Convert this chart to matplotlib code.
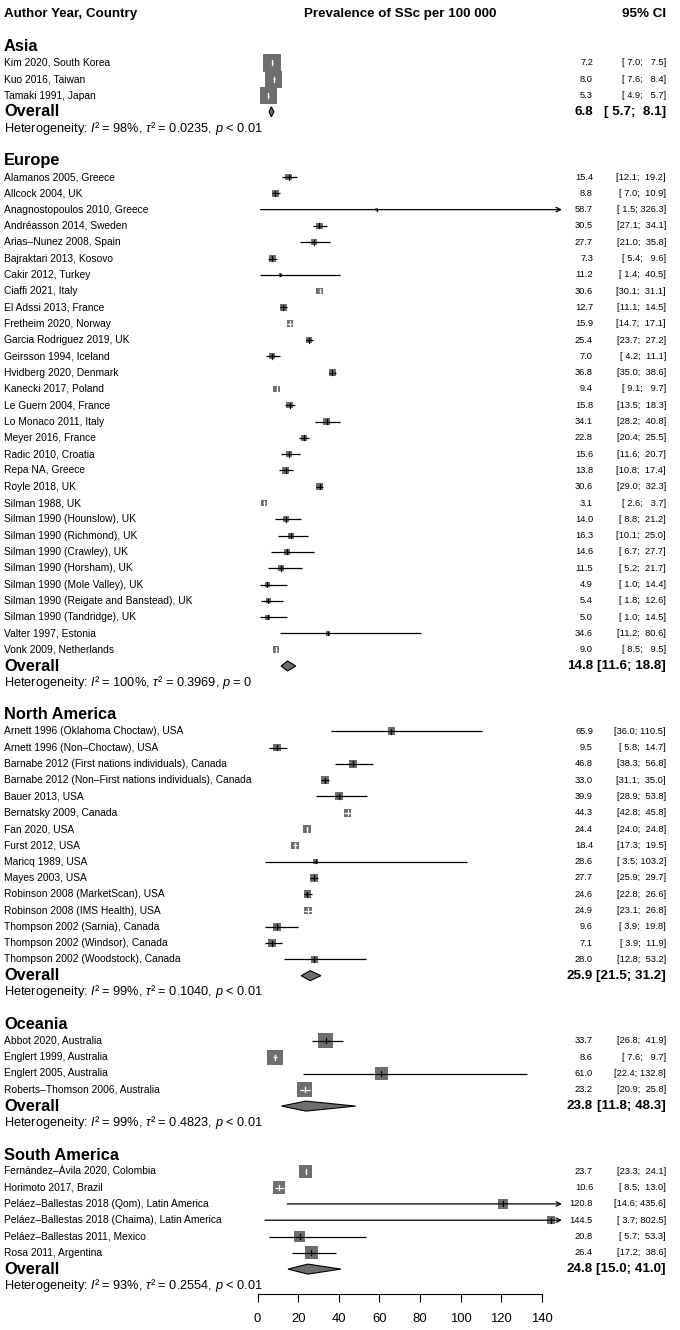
import matplotlib.pyplot as plt
import matplotlib.transforms as mtransforms
from matplotlib.patches import Rectangle, Polygon

plt.rcParams['font.family'] = ['Liberation Sans', 'DejaVu Sans']
plt.rcParams['mathtext.fontset'] = 'custom'
plt.rcParams['mathtext.rm'] = 'Liberation Sans'
plt.rcParams['mathtext.it'] = 'Liberation Sans:italic'

# ---- data ----
group_names = ['Asia', 'Europe', 'North America', 'Oceania', 'South America']

asia_labels = ['Kim 2020, South Korea', 'Kuo 2016, Taiwan', 'Tamaki 1991, Japan']
asia_est = [7.2, 8.0, 5.3]
asia_lo = [7.0, 7.6, 4.9]
asia_hi = [7.5, 8.4, 5.7]
asia_w = [33.4, 33.4, 33.2]

europe_labels = ['Alamanos 2005, Greece', 'Allcock 2004, UK', 'Anagnostopoulos 2010, Greece',
                 'Andréasson 2014, Sweden', 'Arias–Nunez 2008, Spain', 'Bajraktari 2013, Kosovo',
                 'Cakir 2012, Turkey', 'Ciaffi 2021, Italy', 'El Adssi 2013, France',
                 'Fretheim 2020, Norway', 'Garcia Rodriguez 2019, UK', 'Geirsson 1994, Iceland',
                 'Hvidberg 2020, Denmark', 'Kanecki 2017, Poland', 'Le Guern 2004, France',
                 'Lo Monaco 2011, Italy', 'Meyer 2016, France', 'Radic 2010, Croatia',
                 'Repa NA, Greece', 'Royle 2018, UK', 'Silman 1988, UK',
                 'Silman 1990 (Hounslow), UK', 'Silman 1990 (Richmond), UK',
                 'Silman 1990 (Crawley), UK', 'Silman 1990 (Horsham), UK',
                 'Silman 1990 (Mole Valley), UK', 'Silman 1990 (Reigate and Banstead), UK',
                 'Silman 1990 (Tandridge), UK', 'Valter 1997, Estonia', 'Vonk 2009, Netherlands']
europe_est = [15.4, 8.8, 58.7, 30.5, 27.7, 7.3, 11.2, 30.6, 12.7, 15.9, 25.4, 7.0, 36.8, 9.4,
              15.8, 34.1, 22.8, 15.6, 13.8, 30.6, 3.1, 14.0, 16.3, 14.6, 11.5, 4.9, 5.4, 5.0,
              34.6, 9.0]
europe_lo = [12.1, 7.0, 1.5, 27.1, 21.0, 5.4, 1.4, 30.1, 11.1, 14.7, 23.7, 4.2, 35.0, 9.1,
             13.5, 28.2, 20.4, 11.6, 10.8, 29.0, 2.6, 8.8, 10.1, 6.7, 5.2, 1.0, 1.8, 1.0,
             11.2, 8.5]
europe_hi = [19.2, 10.9, 326.3, 34.1, 35.8, 9.6, 40.5, 31.1, 14.5, 17.1, 27.2, 11.1, 38.6, 9.7,
             18.3, 40.8, 25.5, 20.7, 17.4, 32.3, 3.7, 21.2, 25.0, 27.7, 21.7, 14.4, 12.6, 14.5,
             80.6, 9.5]
europe_w = [5.0, 5.0, 0.9, 5.0, 4.8, 4.8, 1.3, 4.6, 4.6, 4.6, 4.6, 4.2, 5.0, 4.6, 4.6, 5.0,
            4.8, 4.4, 4.4, 4.8, 4.4, 4.0, 4.0, 3.8, 3.8, 3.0, 3.2, 3.0, 2.0, 4.6]

namerica_labels = ['Arnett 1996 (Oklahoma Choctaw), USA', 'Arnett 1996 (Non–Choctaw), USA',
                   'Barnabe 2012 (First nations individuals), Canada',
                   'Barnabe 2012 (Non–First nations individuals), Canada', 'Bauer 2013, USA',
                   'Bernatsky 2009, Canada', 'Fan 2020, USA', 'Furst 2012, USA',
                   'Maricq 1989, USA', 'Mayes 2003, USA', 'Robinson 2008 (MarketScan), USA',
                   'Robinson 2008 (IMS Health), USA', 'Thompson 2002 (Sarnia), Canada',
                   'Thompson 2002 (Windsor), Canada', 'Thompson 2002 (Woodstock), Canada']
namerica_est = [65.9, 9.5, 46.8, 33.0, 39.9, 44.3, 24.4, 18.4, 28.6, 27.7, 24.6, 24.9, 9.6, 7.1, 28.0]
namerica_lo = [36.0, 5.8, 38.3, 31.1, 28.9, 42.8, 24.0, 17.3, 3.5, 25.9, 22.8, 23.1, 3.9, 3.9, 12.8]
namerica_hi = [110.5, 14.7, 56.8, 35.0, 53.8, 45.8, 24.8, 19.5, 103.2, 29.7, 26.6, 26.8, 19.8, 11.9, 53.2]
namerica_w = [6.6, 6.8, 7.0, 7.1, 7.0, 7.0, 6.4, 6.4, 2.2, 7.1, 6.6, 7.1, 6.4, 6.4, 6.4]

oceania_labels = ['Abbot 2020, Australia', 'Englert 1999, Australia', 'Englert 2005, Australia',
                  'Roberts–Thomson 2006, Australia']
oceania_est = [33.7, 8.6, 61.0, 23.2]
oceania_lo = [26.8, 7.6, 22.4, 20.9]
oceania_hi = [41.9, 9.7, 132.8, 25.8]
oceania_w = [25.0, 25.5, 17.5, 25.0]

samerica_labels = ['Fernández–Ávila 2020, Colombia', 'Horimoto 2017, Brazil',
                   'Peláez–Ballestas 2018 (Qom), Latin America',
                   'Peláez–Ballestas 2018 (Chaima), Latin America',
                   'Peláez–Ballestas 2011, Mexico', 'Rosa 2011, Argentina']
samerica_est = [23.7, 10.6, 120.8, 144.5, 20.8, 26.4]
samerica_lo = [23.3, 8.5, 14.6, 3.7, 5.7, 17.2]
samerica_hi = [24.1, 13.0, 435.6, 802.5, 53.3, 38.6]
samerica_w = [19.0, 18.5, 9.5, 7.5, 13.5, 19.0]

overall_est = [6.8, 14.8, 25.9, 23.8, 24.8]
overall_lo = [5.7, 11.6, 21.5, 11.8, 15.0]
overall_hi = [8.1, 18.8, 31.2, 48.3, 41.0]
het_i2 = [98, 100, 99, 99, 93]
het_tau2 = ['0.0235', '0.3969', '0.1040', '0.4823', '0.2554']
het_p = ['< 0.01', '= 0', '< 0.01', '< 0.01', '< 0.01']

xticks = [0, 20, 40, 60, 80, 100, 120, 140]

groups = [
    (asia_labels, asia_est, asia_lo, asia_hi, asia_w),
    (europe_labels, europe_est, europe_lo, europe_hi, europe_w),
    (namerica_labels, namerica_est, namerica_lo, namerica_hi, namerica_w),
    (oceania_labels, oceania_est, oceania_lo, oceania_hi, oceania_w),
    (samerica_labels, samerica_est, samerica_lo, samerica_hi, samerica_w),
]

# ---- layout (pixels) ----
W, H = 680, 1330
X0, X140 = 257.5, 542.0
PXU = (X140 - X0) / 140.0
PITCH = 16.3
Y_HEAD = 14.0
Y_AXIS = 1294.0
XMAX_ARROW = 149.8
BOX_K = 3.0
BOX_COL = '#6e6e6e'


def row_of(px):
    return (px - Y_HEAD) / PITCH


fig = plt.figure(figsize=(W / 100, H / 100), dpi=100)
ax = fig.add_axes([X0 / W, (H - Y_AXIS) / H, (X140 - X0) / W, Y_AXIS / H])
ax.set_xlim(0, 140)
ax.set_ylim(row_of(Y_AXIS), row_of(0))
for s in ['top', 'right', 'left']:
    ax.spines[s].set_visible(False)
ax.spines['bottom'].set_linewidth(0.8)
ax.set_yticks([])
ax.set_xticks(xticks)
ax.tick_params(axis='x', length=6, width=0.8, pad=7.5, labelsize=9.4)

tr = mtransforms.blended_transform_factory(fig.transFigure, ax.transData)
X_LAB = 4 / W
X_EST = 593 / W
X_OEST = 593 / W
X_CI = 666 / W

FS_LAB = 7.4
FS_NUM = 6.7
FS_OVR = 9.6

# header
ax.text(X_LAB, 0, 'Author Year, Country', transform=tr, ha='left', va='center',
        fontsize=9.6, fontweight='bold')
ax.text(400 / W, 0, 'Prevalence of SSc per 100 000', transform=tr, ha='center',
        va='center', fontsize=9.6, fontweight='bold')
ax.text(X_CI, 0, '95% CI', transform=tr, ha='right', va='center', fontsize=9.6,
        fontweight='bold')

row = 2
for g, (labels, est, lo, hi, wts) in enumerate(groups):
    ax.text(X_LAB, row, group_names[g], transform=tr, ha='left', va='center',
            fontsize=11.8, fontweight='bold')
    row += 1
    for lab, e, l, h, w in zip(labels, est, lo, hi, wts):
        size = BOX_K * w ** 0.5
        bw, bh = size / PXU, size / PITCH
        ax.add_patch(Rectangle((e - bw / 2, row - bh / 2), bw, bh, facecolor=BOX_COL,
                               edgecolor='none', zorder=2, clip_on=False))
        inside = (e - l) * PXU <= size / 2 and (h - e) * PXU <= size / 2
        lc = 'white' if inside else 'black'
        tick = min(2.5, size / 2 - 0.5) / PITCH
        if h > XMAX_ARROW:
            ax.annotate('', xy=(XMAX_ARROW, row), xytext=(l, row), annotation_clip=False,
                        arrowprops=dict(arrowstyle='->', color='black', lw=0.9,
                                        shrinkA=0, shrinkB=0, mutation_scale=8), zorder=3)
        else:
            ax.plot([l, h], [row, row], color=lc, lw=0.9, zorder=3, clip_on=False,
                    solid_capstyle='butt')
        ax.plot([e, e], [row - tick, row + tick], color=lc, lw=0.9, zorder=3,
                clip_on=False)
        ax.text(X_LAB, row, lab, transform=tr, ha='left', va='center', fontsize=FS_LAB)
        ax.text(X_EST, row, '%.1f' % e, transform=tr, ha='right', va='center',
                fontsize=FS_NUM)
        ax.text(X_CI, row, '[%4.1f; %5.1f]' % (l, h), transform=tr, ha='right',
                va='center', fontsize=FS_NUM)
        row += 1
    # overall diamond
    oe, ol, oh = overall_est[g], overall_lo[g], overall_hi[g]
    dh = 5.0 / PITCH
    ax.add_patch(Polygon([(ol, row), (oe, row - dh), (oh, row), (oe, row + dh)],
                         closed=True, facecolor=BOX_COL, edgecolor='black', lw=0.8,
                         zorder=3, clip_on=False))
    ax.text(X_LAB, row, 'Overall', transform=tr, ha='left', va='center', fontsize=11.8,
            fontweight='bold')
    ax.text(X_OEST, row, '%.1f' % oe, transform=tr, ha='right', va='center',
            fontsize=FS_OVR, fontweight='bold')
    ax.text(X_CI, row, '[%4.1f; %4.1f]' % (ol, oh), transform=tr, ha='right',
            va='center', fontsize=FS_OVR, fontweight='bold')
    row += 1
    ax.text(X_LAB, row, 'Heterogeneity: $I$² = %d%%, $\\tau$² = %s, $p$ %s'
            % (het_i2[g], het_tau2[g], het_p[g]), transform=tr, ha='left',
            va='center', fontsize=9.2)
    row += 2

fig.savefig('out.png', dpi=100)
